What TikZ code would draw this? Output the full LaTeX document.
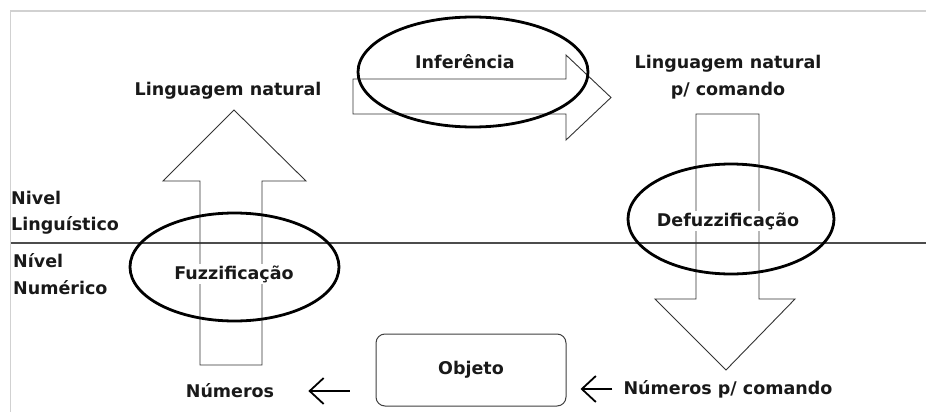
\documentclass[tikz,border=0pt]{standalone}
\usepackage{fontspec}
\setmainfont{DejaVu Sans}
\usetikzlibrary{shapes.geometric,arrows.meta}
\begin{document}
\begin{tikzpicture}[x=1pt,y=-1pt,
  lbl/.style={font=\bfseries\fontsize{17.5}{26.5}\selectfont, text=black!90, inner sep=1pt},
  wlbl/.style={lbl, fill=white},
  bigarrow/.style={draw=black!80, line width=0.9pt, line join=miter},
  ring/.style={draw=black, line width=2.8pt, ellipse, inner sep=0pt},
  level/.style={draw=black!70, line width=1.2pt},
  frame/.style={draw=black!18, line width=1.2pt},
  smallarrow/.style={draw=black, line width=1.8pt, -{Straight Barb[length=14pt,width=26pt,line width=1.8pt]}},
  objbox/.style={draw=black!75, line width=1pt, rounded corners=9pt, minimum width=190pt, minimum height=72pt, inner sep=0pt}
]
\useasboundingbox (0,0) rectangle (926,412);
\fill[white] (0,0) rectangle (926,412);
% frame
\coordinate (f1) at (926,11);
\coordinate (f2) at (10.5,11);
\coordinate (f3) at (10.5,412);
\draw[frame] (f1) -- (f2) -- (f3);
% level line
\coordinate (l1) at (10.5,243);
\coordinate (l2) at (926,243);
\draw[level] (l1) -- (l2);
% up arrow (fuzzification)
\draw[bigarrow] (234,110) -- (306,181) -- (262,181) -- (262,365) -- (200,365) -- (200,181) -- (163,181) -- cycle;
% right arrow (inference)
\draw[bigarrow] (353,79) -- (566,79) -- (566,55) -- (611,97.5) -- (566,140) -- (566,114) -- (353,114) -- cycle;
% down arrow (defuzzification)
\draw[bigarrow] (696,114) -- (759,114) -- (759,299) -- (795,299) -- (726,370) -- (655,299) -- (696,299) -- cycle;
% labels
\node[lbl] (ln) at (228,91) {Linguagem natural};
\node[lbl] (inf) at (465,62) {Inferência};
\node[lbl, align=center] (lnc) at (728,77) {Linguagem natural\\p/ comando};
\node[lbl, align=left, anchor=west] (nl) at (10,212.5) {Nivel\\Linguístico};
\node[lbl, align=left, anchor=west] (nn) at (12,274) {Nível\\Numérico};
\node[wlbl] (fz) at (234,274) {Fuzzificação};
\node[wlbl] (dfz) at (728,221) {Defuzzificação};
\node[lbl] (num) at (230,391) {Números};
\node[objbox] (obj) at (471,370) {};
\node[lbl] at (obj.center) (objt) {Objeto};
\node[lbl] (numc) at (728,389) {Números p/ comando};
% ellipses
\node[ring, minimum width=209pt, minimum height=108pt] (efz) at (234.5,267) {};
\node[ring, minimum width=230pt, minimum height=110pt] (einf) at (473,72) {};
\node[ring, minimum width=206pt, minimum height=110pt] (edfz) at (731,219) {};
% small arrows
\draw[smallarrow, shorten <=26pt, shorten >=33pt] (obj.west |- num.east) -- (num.east);
\draw[smallarrow, shorten <=10pt, shorten >=14pt] (numc.west) -- (obj.east |- numc.west);
\end{tikzpicture}
\end{document}
